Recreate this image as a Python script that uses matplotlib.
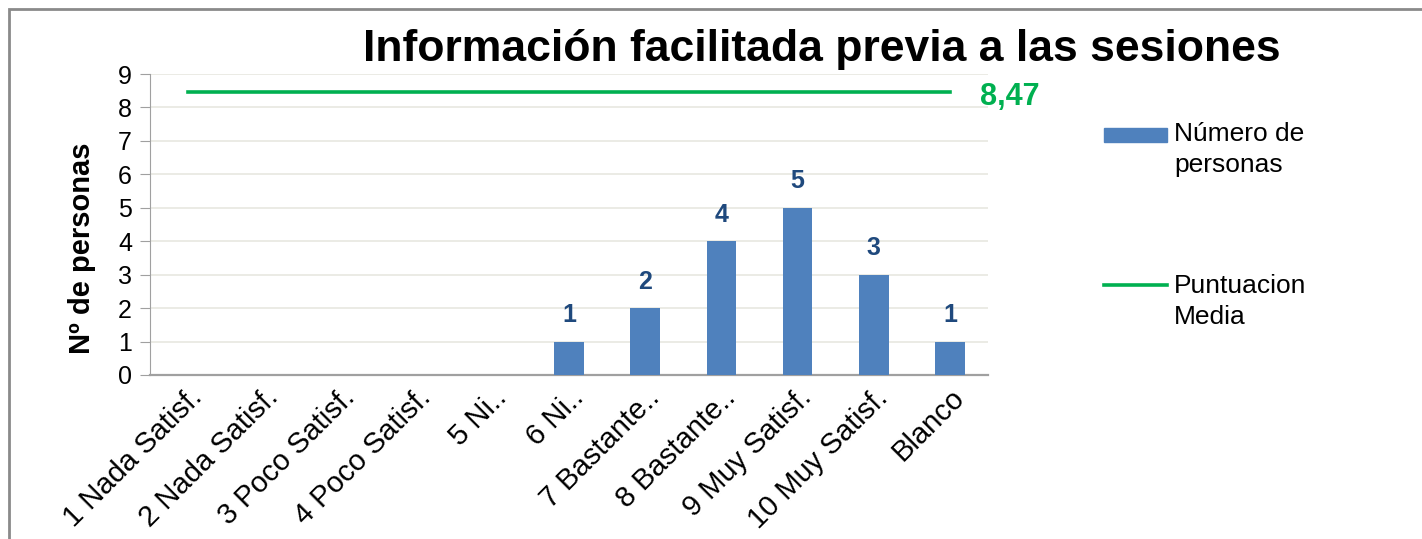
import matplotlib.pyplot as plt
from matplotlib.patches import Rectangle
from matplotlib.lines import Line2D

plt.rcParams['font.family'] = ['Liberation Sans', 'DejaVu Sans']

# data
categories = ['1 Nada Satisf.', '2 Nada Satisf.', '3 Poco Satisf.', '4 Poco Satisf.',
              '5 Ni..', '6 Ni..', '7 Bastante..', '8 Bastante..', '9 Muy Satisf.',
              '10 Muy Satisf.', 'Blanco']
personas = [0, 0, 0, 0, 0, 1, 2, 4, 5, 3, 1]
media = 8.47
media_label = '8,47'
legend_labels = ['Número de\npersonas', 'Puntuacion\nMedia']

bar_color = '#4F81BD'
line_color = '#00B050'
label_color = '#1F497D'

fig = plt.figure(figsize=(14.22, 5.39), dpi=100)
ax = fig.add_axes([150 / 1422, 1 - 375 / 539, 838 / 1422, 301 / 539])

x = list(range(len(categories)))
ax.bar(x, personas, width=0.39, color=bar_color, zorder=3)
ax.plot([x[0], x[-1]], [media, media], color=line_color, lw=2.6, zorder=4)
ax.text(x[-1] + 0.4, media - 0.17, media_label, color=line_color,
        fontsize=22, fontweight='bold', va='center', ha='left')

# value labels
for xi, v in zip(x, personas):
    if v > 0:
        ax.annotate(str(v), (xi, v), xytext=(0, 19), textcoords='offset points',
                    ha='center', va='center', fontsize=18, fontweight='bold',
                    color=label_color)

ax.set_xlim(-0.5, len(categories) - 0.5)
ax.set_ylim(0, 9)
ax.set_yticks(range(10))
ax.yaxis.grid(True, color='#e8e8e0', lw=1.2, zorder=0)
ax.set_axisbelow(True)

ax.set_xticks(x)
ax.set_xticklabels(categories, rotation=45, ha='right', rotation_mode='anchor',
                   fontsize=21)
ax.tick_params(axis='x', length=0, pad=6)
ax.tick_params(axis='y', length=7, color='#a0a0a0', labelsize=18, pad=6)

for side in ['top', 'right']:
    ax.spines[side].set_visible(False)
ax.spines['left'].set_color('#a0a0a0')
ax.spines['bottom'].set_color('#a0a0a0')
ax.spines['bottom'].set_linewidth(1.6)

ax.set_ylabel('Nº de personas', fontsize=21, fontweight='bold')
ax.yaxis.set_label_coords(-0.064, 0.42)

fig.text(822 / 1422, 1 - 49 / 539, 'Información facilitada previa a las sesiones',
         fontsize=32, fontweight='bold', ha='center', va='center')

# legend, drawn in figure pixels so the key sits on the first text line
W, H = 1422, 539
fig.add_artist(Rectangle((1104 / W, 1 - 142 / H), 63 / W, 14 / H,
                         transform=fig.transFigure, color=bar_color))
fig.add_artist(Line2D([1104 / W, 1167 / W], [1 - 285 / H, 1 - 285 / H],
                      transform=fig.transFigure, color=line_color, lw=2.6))
fig.text(1174 / W, 1 - 122 / H, legend_labels[0], fontsize=19, va='top',
         ha='left', linespacing=1.35)
fig.text(1174 / W, 1 - 274 / H, legend_labels[1], fontsize=19, va='top',
         ha='left', linespacing=1.35)

fig.add_artist(Rectangle((9 / 1422, -0.05), 1.1, 1 - 9 / 539 + 0.05,
                         transform=fig.transFigure, fill=False,
                         edgecolor='#8a8a8a', lw=2))

fig.savefig('out.png', dpi=100)
